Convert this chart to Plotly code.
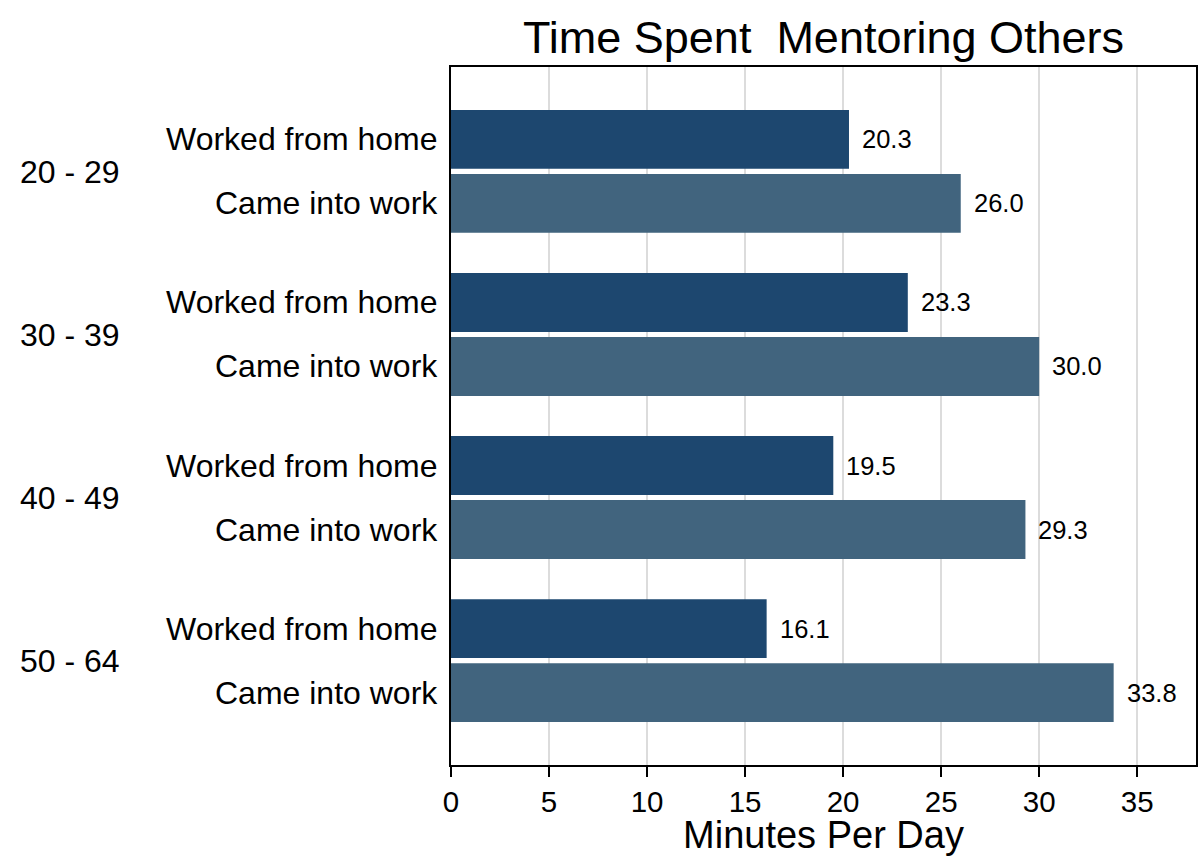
import plotly.graph_objects as go

age_groups = ["20 - 29", "30 - 39", "40 - 49", "50 - 64"]
series_names = ["Worked from home", "Came into work"]
wfh_values = [20.3, 23.3, 19.5, 16.1]
ciw_values = [26.0, 30.0, 29.3, 33.8]
x_ticks = [0, 5, 10, 15, 20, 25, 30, 35]

colors = ["#1d476f", "#41647e"]
FONT = "Liberation Sans, Arial, sans-serif"

fig = go.Figure()
for name, vals, col in zip(series_names, [wfh_values, ciw_values], colors):
    fig.add_trace(go.Bar(
        y=age_groups, x=vals, orientation="h", name=name,
        marker=dict(color=col, line=dict(width=0)),
        showlegend=False,
    ))

annotations = []
shift = 32
for vals, name, ys in [(wfh_values, series_names[0], shift), (ciw_values, series_names[1], -shift)]:
    for g, v in zip(age_groups, vals):
        annotations.append(dict(x=v, y=g, xref="x", yref="y", text=f"{v:.1f}",
                                showarrow=False, xanchor="left", xshift=11, yshift=ys,
                                font=dict(size=25.5, color="black", family=FONT)))
        annotations.append(dict(x=0, y=g, xref="paper", yref="y", text=name,
                                showarrow=False, xanchor="right", xshift=-11, yshift=ys,
                                font=dict(size=32, color="black", family=FONT)))

fig.update_layout(
    width=1199, height=856,
    margin=dict(l=451, r=1, t=67, b=91),
    paper_bgcolor="white", plot_bgcolor="white",
    barmode="group", bargap=0.215, bargroupgap=0.08,
    title=dict(text="Time Spent  Mentoring Others", x=0.5, xref="paper",
               y=0.957, yanchor="middle",
               font=dict(size=45, color="black", family=FONT)),
    font=dict(family=FONT, color="black"),
    annotations=annotations,
    xaxis=dict(range=[0, 38.0], tickvals=x_ticks, showgrid=True, gridcolor="#dcdcdc",
               gridwidth=2, zeroline=False, showline=True, linecolor="black", linewidth=2,
               mirror=True, ticks="outside", ticklen=10, tickwidth=2, tickcolor="black",
               tickfont=dict(size=29.5, family=FONT),
               title=dict(text="Minutes Per Day", font=dict(size=38, family=FONT), standoff=7)),
    yaxis=dict(range=[3.64, -0.64], type="category", showgrid=False, zeroline=False,
               showline=True, linecolor="black", linewidth=2, mirror=True, ticks="",
               ticklabelstandoff=323, tickfont=dict(size=32, family=FONT)),
)

fig.write_html("out.html", config={"displayModeBar": False},
               post_script="document.body.style.margin='0';")
